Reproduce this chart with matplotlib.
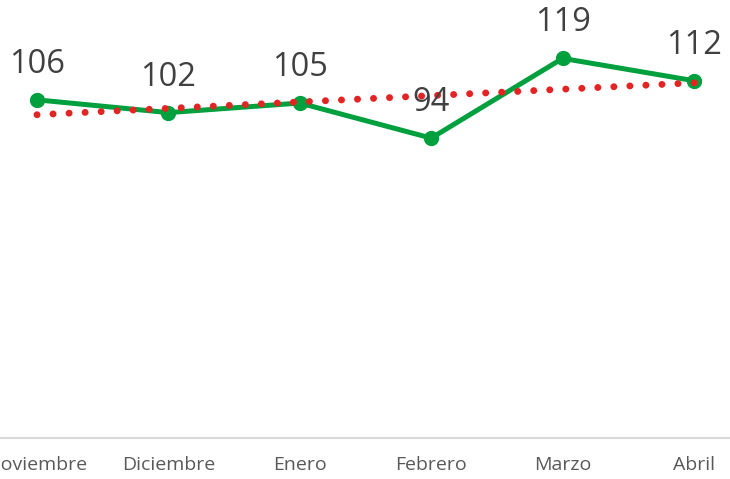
import numpy as np
import matplotlib.pyplot as plt

# data
months = ["Noviembre", "Diciembre", "Enero", "Febrero", "Marzo", "Abril"]
values = [106, 102, 105, 94, 119, 112]

plt.rcParams['font.family'] = ['Open Sans', 'DejaVu Sans']

fig = plt.figure(figsize=(7.30, 4.79), dpi=100)
# axes spans past the image edges (the original is cropped)
ax = fig.add_axes([-28.7/730, (479-438)/479, 788.4/730, 438/479])

x = np.arange(len(months))

# linear trend line
k, b = np.polyfit(x, values, 1)
ax.plot(x, k*x + b, color='#E52421', lw=5, linestyle=(0, (0.01, 2.3)),
        dash_capstyle='round', zorder=3)

ax.plot(x, values, color='#00A03E', lw=3.6, marker='o', ms=10,
        solid_capstyle='round', zorder=2)

for xi, v in zip(x, values):
    ax.annotate(str(v), (xi, v), xytext=(0, 25.5), textcoords='offset points',
                ha='center', va='center', fontsize=23.5, color='#404040')

ax.set_xlim(-0.5, 5.5)
ax.set_ylim(0, 137.3)
ax.set_xticks(x)
ax.set_xticklabels(months, fontsize=14, color='#595959')
ax.set_yticks([])
ax.tick_params(axis='x', length=0, pad=13)
for s in ['top', 'right', 'left']:
    ax.spines[s].set_visible(False)
ax.spines['bottom'].set_color('#D9D9D9')
ax.spines['bottom'].set_linewidth(1.5)

fig.savefig('out.png', dpi=100)
